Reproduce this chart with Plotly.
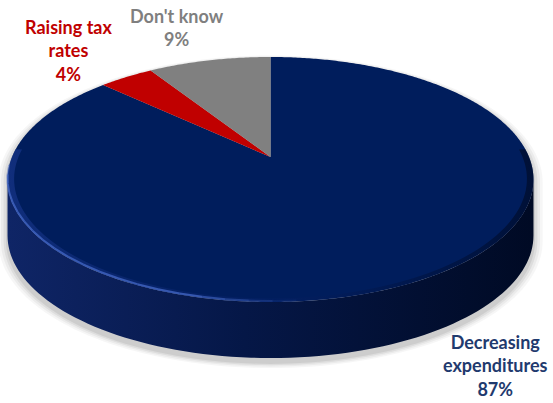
import numpy as np
import plotly.graph_objects as go

# Survey answers, drawn clockwise from 12 o'clock
labels = ["Decreasing expenditures", "Raising tax rates", "Don't know"]
label_lines = [["Decreasing", "expenditures"], ["Raising tax", "rates"], ["Don't know"]]
values = [87, 4, 9]

top_colors = ["#001D5C", "#C00000", "#808080"]
side_scales = [
    [[0, "#0F2566"], [0.45, "#051747"], [1, "#000A24"]],
    [[0, "#8E0000"], [1, "#5A0000"]],
    [[0, "#6A6A6A"], [1, "#4A4A4A"]],
]
label_colors = ["#1F3A6E", "#C00000", "#7F7F7F"]
label_pos = [(495, 365), (68.5, 50), (177, 27)]

W, H = 553, 403

# perspective projection of the disc onto the page (pixel space)
CX, K = 270.5, 258.5
PA, PB, PC = -89.53, 157.0, 0.1837
DEPTH = 56


def proj(theta, dy=0.0, scale=1.0, ox=0.0):
    s, c = np.sin(theta), np.cos(theta)
    den = 1 + PC * c
    x = CX + scale * K * s / den + ox
    y = PB + scale * ((PA * c + PB) / den - PB) + dy
    return x, y


def arc(t0, t1, n=200, **kw):
    th = np.linspace(t0, t1, max(3, int(n * abs(t1 - t0) / (2 * np.pi)) + 3))
    return proj(th, **kw)


total = sum(values)
fracs = np.array(values) / total
edges = np.concatenate([[0], np.cumsum(fracs)]) * 2 * np.pi

vis0 = np.arccos(-PC)
vis1 = 2 * np.pi - vis0

fig = go.Figure()

# soft shadow under the disc
for i, (grow, alpha) in enumerate([(1.035, 0.035), (1.025, 0.045), (1.015, 0.06), (1.006, 0.07)]):
    bx, by = arc(vis0, vis1, scale=grow, dy=DEPTH + 5)
    tx, ty = arc(vis1, vis0 + 2 * np.pi, scale=grow, dy=2)
    fig.add_trace(go.Scatter(
        x=np.concatenate([bx, tx]), y=np.concatenate([by, ty]),
        fill="toself", mode="none", fillcolor=f"rgba(0,0,0,{alpha})",
        hoverinfo="skip", showlegend=False))

# visible side wall of each slice
for i in range(len(values)):
    lo, hi = max(edges[i], vis0), min(edges[i + 1], vis1)
    if lo >= hi:
        continue
    ux, uy = arc(lo, hi)
    lx, ly = arc(hi, lo, dy=DEPTH)
    fig.add_trace(go.Scatter(
        x=np.concatenate([ux, lx]), y=np.concatenate([uy, ly]),
        fill="toself", mode="none",
        fillgradient=dict(type="horizontal", colorscale=side_scales[i]),
        hoverinfo="skip", showlegend=False))

# top face slices
ax, ay = proj(0.0, scale=0.0)
for i in range(len(values)):
    px, py = arc(edges[i], edges[i + 1], n=600)
    fig.add_trace(go.Scatter(
        x=np.concatenate([[ax], px, [ax]]), y=np.concatenate([[ay], py, [ay]]),
        fill="toself", mode="none", fillcolor=top_colors[i],
        name=labels[i], hoverinfo="name", showlegend=False))

# bevel along the near rim of the top face
ox_, oy_ = arc(vis0 - 0.25, vis1 + 0.25)
ix_, iy_ = arc(vis1 + 0.25, vis0 - 0.25, scale=0.975)
fig.add_trace(go.Scatter(
    x=np.concatenate([ox_, ix_]), y=np.concatenate([oy_, iy_]),
    fill="toself", mode="none",
    fillgradient=dict(type="horizontal",
                      colorscale=[[0, "rgba(30,60,150,0.55)"], [0.5, "rgba(10,35,110,0.25)"],
                                  [0.8, "rgba(0,10,40,0.35)"], [1, "rgba(0,8,30,0.6)"]]),
    hoverinfo="skip", showlegend=False))

# light catch on the rim edge
seg = np.linspace(np.pi * 0.95, np.pi * 1.5, 24)
for a0, a1 in zip(seg[:-1], seg[1:]):
    mid = 0.5 * (a0 + a1)
    w = np.clip((mid - np.pi * 0.97) / 0.35, 0, 1) * np.clip((np.pi * 1.49 - mid) / 0.15, 0, 1)
    if w <= 0:
        continue
    sx, sy = arc(a0, a1, n=400, dy=-1)
    fig.add_trace(go.Scatter(
        x=sx, y=sy, mode="lines",
        line=dict(color=f"rgba(70,105,200,{0.75 * w:.3f})", width=2),
        hoverinfo="skip", showlegend=False))

# data labels
for i in range(len(values)):
    pct = f"{round(fracs[i] * 100):.0f}%"
    text = "<br>".join(label_lines[i] + [pct])
    fig.add_annotation(
        x=label_pos[i][0], y=label_pos[i][1], xref="x", yref="y",
        text=text, showarrow=False, align="center",
        xanchor="center", yanchor="middle",
        font=dict(family="Lato", size=18, color=label_colors[i], weight="bold"))

fig.update_layout(
    width=W, height=H,
    margin=dict(l=0, r=0, t=0, b=0),
    paper_bgcolor="white", plot_bgcolor="white",
    xaxis=dict(range=[0, W], visible=False, fixedrange=True),
    yaxis=dict(range=[H, 0], visible=False, fixedrange=True),
    showlegend=False,
)

fig.write_html("out.html")
